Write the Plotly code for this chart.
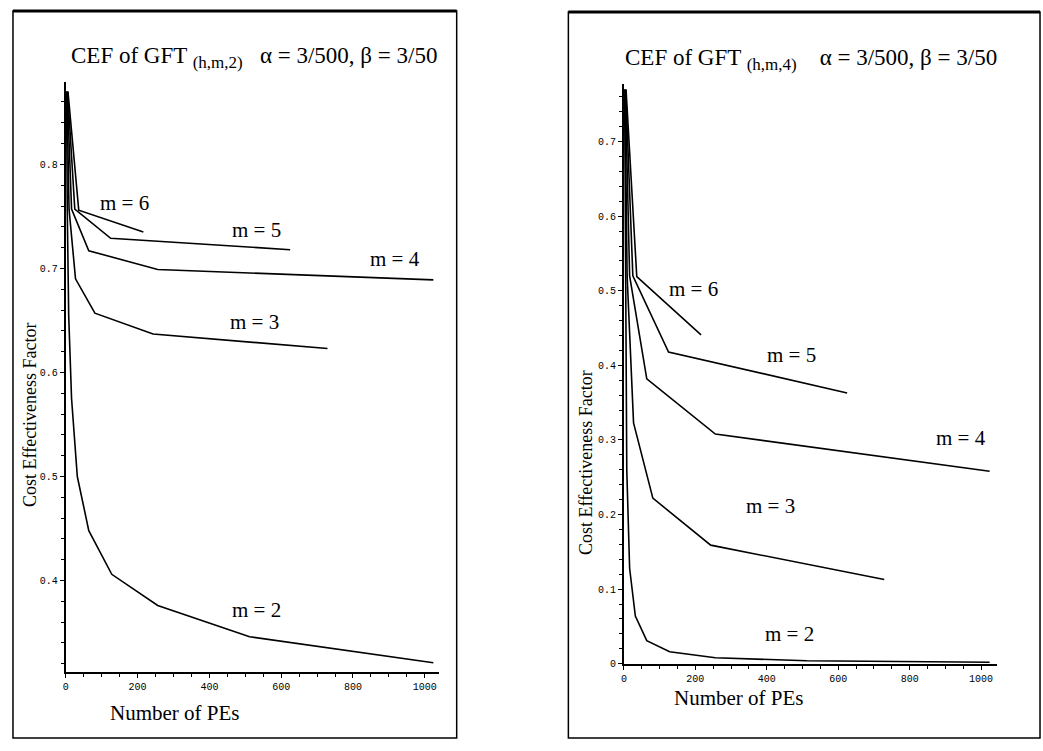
import plotly.graph_objects as go

# ---------------- data ----------------
pes_m2 = [2, 4, 8, 16, 32, 64, 128, 256, 512, 1024]
pes_m3 = [3, 9, 27, 81, 243, 729]
pes_m4 = [4, 16, 64, 256, 1024]
pes_m5 = [5, 25, 125, 625]
pes_m6 = [6, 36, 216]

# left panel: GFT(h,m,2)
cef2_m2 = [0.870, 0.757, 0.655, 0.575, 0.500, 0.448, 0.406, 0.376, 0.346, 0.321]
cef2_m3 = [0.870, 0.757, 0.690, 0.657, 0.637, 0.623]
cef2_m4 = [0.870, 0.757, 0.717, 0.699, 0.689]
cef2_m5 = [0.870, 0.757, 0.729, 0.718]
cef2_m6 = [0.870, 0.756, 0.735]

# right panel: GFT(h,m,4)
cef4_m2 = [0.770, 0.520, 0.260, 0.128, 0.064, 0.031, 0.016, 0.008, 0.004, 0.002]
cef4_m3 = [0.770, 0.520, 0.323, 0.222, 0.159, 0.113]
cef4_m4 = [0.770, 0.520, 0.382, 0.308, 0.258]
cef4_m5 = [0.770, 0.520, 0.418, 0.363]
cef4_m6 = [0.770, 0.519, 0.441]

x_ticks = [0, 200, 400, 600, 800, 1000]
x_ticktext = ["0", "200", "400", "600", "800", "1000"]
yL_ticks = [0.4, 0.5, 0.6, 0.7, 0.8]
yL_ticktext = ["0.4", "0.5", "0.6", "0.7", "0.8"]
yR_ticks = [0, 0.1, 0.2, 0.3, 0.4, 0.5, 0.6, 0.7]
yR_ticktext = ["0", "0.1", "0.2", "0.3", "0.4", "0.5", "0.6", "0.7"]

labels_L = [("m = 6", 164, 0.763), ("m = 5", 530, 0.737), ("m = 4", 917, 0.709),
            ("m = 3", 525, 0.649), ("m = 2", 530, 0.372)]
labels_R = [("m = 6", 194, 0.502), ("m = 5", 470, 0.414), ("m = 4", 943, 0.303),
            ("m = 3", 411, 0.212), ("m = 2", 464, 0.040)]

W, H = 1043, 751
SERIF = "Liberation Serif"
TICKF = dict(family="Liberation Mono", size=10, color="black")

fig = go.Figure()
line = dict(color="black", width=1.6)
for xs, ys in [(pes_m2, cef2_m2), (pes_m3, cef2_m3), (pes_m4, cef2_m4),
               (pes_m5, cef2_m5), (pes_m6, cef2_m6)]:
    fig.add_trace(go.Scatter(x=xs, y=ys, mode="lines", line=line,
                             xaxis="x", yaxis="y", showlegend=False))
for xs, ys in [(pes_m2, cef4_m2), (pes_m3, cef4_m3), (pes_m4, cef4_m4),
               (pes_m5, cef4_m5), (pes_m6, cef4_m6)]:
    fig.add_trace(go.Scatter(x=xs, y=ys, mode="lines", line=line,
                             xaxis="x2", yaxis="y2", showlegend=False))


def px(v):
    return v / W


def py(v):
    return 1 - v / H


common_x = dict(showgrid=False, zeroline=False, showline=True, linecolor="black",
                linewidth=2, ticks="outside", ticklen=4, tickwidth=1.2,
                tickcolor="black", tickvals=x_ticks, ticktext=x_ticktext,
                tickfont=TICKF,
                minor=dict(dtick=50, ticks="outside", ticklen=3, tickcolor="black"))
common_y = dict(showgrid=False, zeroline=False, showline=True, linecolor="black",
                linewidth=2, ticks="outside", ticklen=4, tickwidth=1.2,
                tickcolor="black", tickfont=TICKF,
                minor=dict(dtick=0.02, ticks="outside", ticklen=3, tickcolor="black"))

fig.update_layout(
    width=W, height=H, margin=dict(l=0, r=0, t=0, b=0),
    paper_bgcolor="white", plot_bgcolor="white",
    xaxis=dict(domain=[px(63), px(437)], range=[0, 1039], anchor="y", **common_x),
    yaxis=dict(domain=[py(678), py(83)], range=[0.3124, 0.879], anchor="x",
               tickvals=yL_ticks, ticktext=yL_ticktext, **common_y),
    xaxis2=dict(domain=[px(622.7), px(997)], range=[0, 1045], anchor="y2", **common_x),
    yaxis2=dict(domain=[py(670), py(85)], range=[0, 0.777], anchor="x2",
                tickvals=yR_ticks, ticktext=yR_ticktext, **common_y),
)

annotations = []
lab_font = dict(family=SERIF, size=21, color="black")
for t, x, y in labels_L:
    annotations.append(dict(text=t, x=x, y=y, xref="x", yref="y", showarrow=False,
                            xanchor="center", yanchor="middle", font=lab_font))
for t, x, y in labels_R:
    annotations.append(dict(text=t, x=x, y=y, xref="x2", yref="y2", showarrow=False,
                            xanchor="center", yanchor="middle", font=lab_font))

tfont = dict(family=SERIF, size=23, color="black")
sub2 = "<sub><span style='font-size:17px'>(h,m,2)</span></sub>"
sub4 = "<sub><span style='font-size:17px'>(h,m,4)</span></sub>"


def pann(text, x, y, font, angle=0):
    return dict(text=text, x=px(x), y=py(y), xref="paper", yref="paper",
                showarrow=False, xanchor="center", yanchor="middle",
                textangle=angle, font=font)


annotations += [
    pann("CEF of GFT " + sub2 + "   α = 3/500, β = 3/50", 252, 58, tfont),
    pann("CEF of GFT " + sub4 + "    α = 3/500, β = 3/50", 810, 60, tfont),
    pann("Cost Effectiveness Factor", 27, 418, dict(family=SERIF, size=18, color="black"), -90),
    pann("Cost Effectiveness Factor", 584, 467, dict(family=SERIF, size=18, color="black"), -90),
    pann("Number of PEs", 172, 720, dict(family=SERIF, size=21, color="black")),
    pann("Number of PEs", 738, 705, dict(family=SERIF, size=21, color="black")),
]
fig.update_layout(annotations=annotations)

shapes = [
    dict(type="rect", xref="paper", yref="paper", x0=px(10), x1=px(455), y0=py(745), y1=py(11),
         line=dict(color="black", width=1.5)),
    dict(type="rect", xref="paper", yref="paper", x0=px(567), x1=px(1040), y0=py(745), y1=py(12),
         line=dict(color="black", width=1.5)),
    dict(type="line", xref="paper", yref="paper", x0=px(10), x1=px(455), y0=py(11), y1=py(11),
         line=dict(color="black", width=3)),
    dict(type="line", xref="paper", yref="paper", x0=px(567), x1=px(1040), y0=py(12), y1=py(12),
         line=dict(color="black", width=3)),
]
fig.update_layout(shapes=shapes)

fig.write_html("out.html")
